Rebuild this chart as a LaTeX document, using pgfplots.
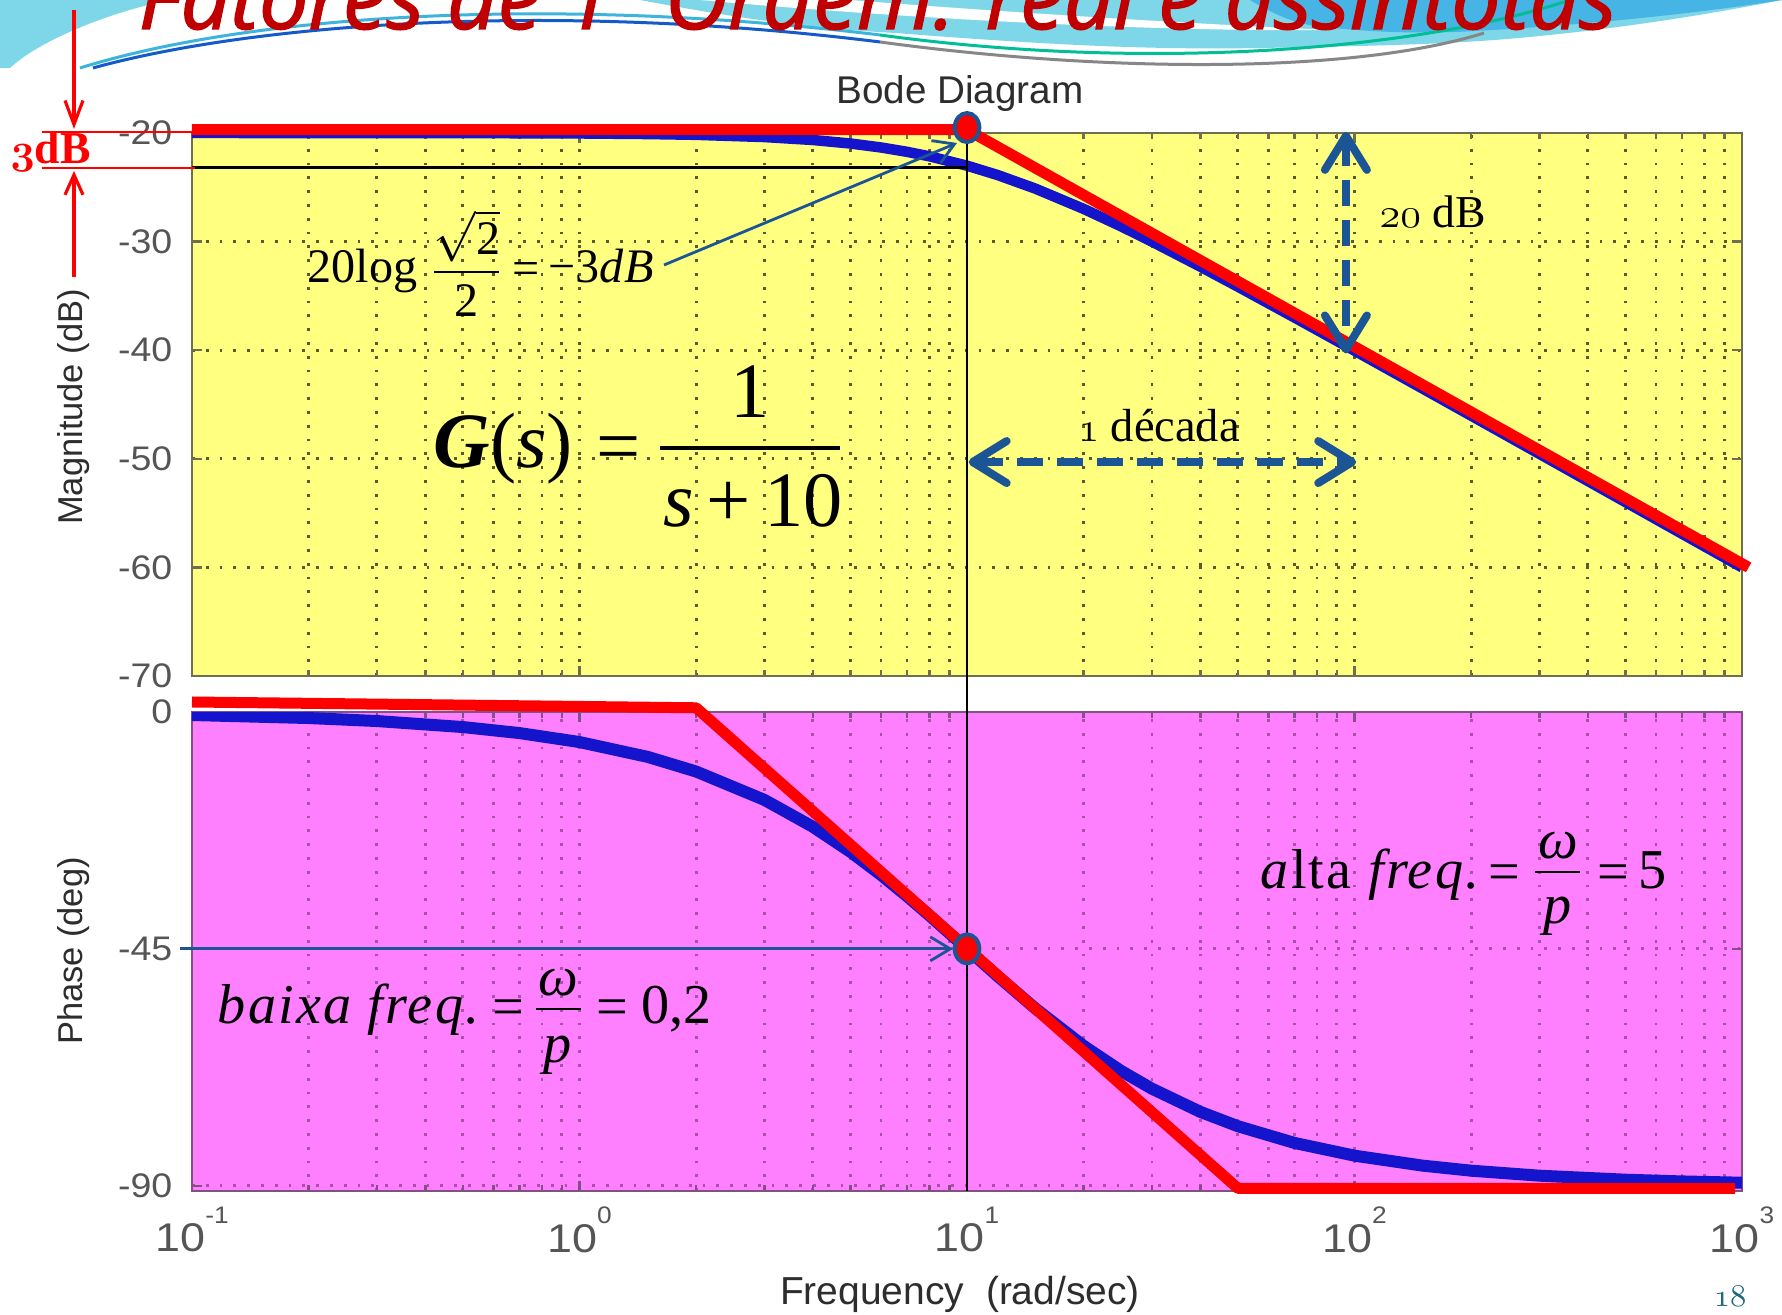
\documentclass[border=0pt]{standalone}
\usepackage{pgfplots}
\pgfplotsset{compat=1.18}
\usepackage{graphicx}
\usepackage{fontspec}
\usetikzlibrary{arrows.meta}

\newfontfamily\msans{Liberation Sans}
\newfontfamily\tnr{Liberation Serif}
\newfontfamily\tnrls{Liberation Serif}[LetterSpace=4]
\newfontfamily\ttl{Open Sans}[ItalicFeatures={FakeBold=1.6}]
\newcommand\setsz[1]{\fontsize{#1}{#1}\selectfont}
\newcommand\osfnum[1]{{\usefont{OML}{cmm}{m}{it}#1}}
\newcommand\osfnumb[1]{{\usefont{OML}{cmm}{b}{it}#1}}
\newcommand\wideticks[1]{\scalebox{1.1}[1]{#1}}
\newcommand\decade[1]{\scalebox{1.12}[1]{10}\raisebox{0.72em}{\setsz{6.8pt}\scalebox{1.1}[1]{#1}}}

\definecolor{magbg}{RGB}{255,255,128}
\definecolor{phbg}{RGB}{255,128,255}
\definecolor{maggrid}{RGB}{90,90,45}
\definecolor{phgrid}{RGB}{170,80,170}
\definecolor{magframe}{RGB}{110,110,80}
\definecolor{phframe}{RGB}{130,80,130}
\definecolor{bodeblue}{RGB}{20,20,205}
\definecolor{asym}{RGB}{255,0,0}
\definecolor{steel}{RGB}{28,85,150}
\definecolor{ticktxt}{RGB}{85,85,85}
\definecolor{labtxt}{RGB}{45,45,45}
\definecolor{titlered}{RGB}{192,0,0}
\definecolor{pagenum}{RGB}{30,105,125}
\definecolor{waveA}{RGB}{125,215,232}
\definecolor{waveB}{RGB}{70,180,228}
\definecolor{lineA}{RGB}{60,180,220}
\definecolor{lineB}{RGB}{20,90,200}
\definecolor{lineC}{RGB}{0,190,150}
\definecolor{lineD}{RGB}{135,135,135}

\begin{document}
\begin{tikzpicture}
\useasboundingbox (0,0) rectangle (178.2mm,131.4mm);
\clip (0,0) rectangle (178.2mm,131.4mm);
\fill[white] (0,0) rectangle (178.2mm,131.4mm);

% slide header: waves and title
\begin{scope}[x=0.1mm,y=-0.1mm,yshift=131.4mm]
  \fill[waveA] (0,0) -- (170,0) .. controls (110,12) and (40,40) .. (10,68) -- (0,68) -- cycle;
  \fill[waveA] (640,0) .. controls (720,15) and (800,28) .. (895,33) .. controls (1050,45) and (1150,50) .. (1261,48) .. controls (1380,46) and (1440,44) .. (1495,40) .. controls (1620,30) and (1720,12) .. (1782,0) -- cycle;
  \fill[white] (700,0) .. controls (900,18) and (1150,32) .. (1330,30) .. controls (1150,22) and (950,8) .. (850,0) -- cycle;
  \fill[waveB] (1250,0) .. controls (1280,18) and (1300,25) .. (1324,27) .. controls (1380,33) and (1420,33) .. (1456,32) .. controls (1600,25) and (1720,10) .. (1782,0) -- cycle;
  \draw[lineA, line width=0.3mm] (80,68) .. controls (250,15) and (550,-5) .. (880,35);
  \draw[lineC, line width=0.3mm] (880,35) .. controls (1150,72) and (1420,50) .. (1570,0);
  \draw[lineB, line width=0.3mm] (93,68) .. controls (260,22) and (560,2) .. (880,42);
  \draw[lineD, line width=0.3mm] (880,42) .. controls (1100,72) and (1350,75) .. (1484,33);
  \node[anchor=base west, inner sep=0pt, text=titlered] at (138,29)
    {\resizebox{147.8mm}{!}{\ttl\itshape Fatores de 1ª Ordem: real e assíntotas}};
\end{scope}

% magnitude
\begin{axis}[at={(19.2mm,63.8mm)}, anchor=south west,
  scale only axis, width=155mm, height=54.3mm,
  xmode=log, xmin=0.1, xmax=1000, ymin=-70, ymax=-20,
  xtick={0.1,1,10,100,1000},
  minor xtick={0.2,0.3,0.4,0.5,0.6,0.7,0.8,0.9,2,3,4,5,6,7,8,9,20,30,40,50,60,70,80,90,200,300,400,500,600,700,800,900},
  tick align=inside, tick pos=both,
  major tick length=1mm, minor tick length=0.6mm,
  xmajorgrids=true, xminorgrids=true, ymajorgrids=true,
  axis background/.style={fill=magbg},
  axis line style={draw=magframe, line width=0.7pt},
  every tick/.style={draw=magframe, line width=0.7pt},
  every axis grid/.style={draw=maggrid, line width=0.28mm, dash pattern=on 0.28mm off 1.1mm},
  ytick={-70,-60,-50,-40,-30,-20},
  yticklabels={\wideticks{-70},\wideticks{-60},\wideticks{-50},\wideticks{-40},\wideticks{-30},\wideticks{-20}},
  yticklabel style={font=\msans\setsz{9.7pt}, text=ticktxt, anchor=east, inner sep=0pt, xshift=-1.9mm},
  xticklabels={}]
\addplot[bodeblue, line width=1.05mm, line join=round] coordinates {
  (0.1,-20.000) (0.2,-20.002) (0.5,-20.011) (1,-20.043) (1.5,-20.097)
  (2,-20.170) (3,-20.374) (4,-20.645) (5,-20.969) (6,-21.335) (7,-21.732)
  (8,-22.148) (10,-23.010) (12,-23.874) (15,-25.119) (20,-26.990)
  (25,-28.603) (30,-30.000) (40,-32.304) (50,-34.150) (70,-36.990)
  (100,-40.043) (150,-43.541) (200,-46.031) (300,-49.547) (500,-53.981)
  (700,-56.903) (1000,-60.000)};
\coordinate (mH1) at (axis cs:0.1,-23.2);
\coordinate (mH2) at (axis cs:10,-23.2);
\coordinate (mV1) at (axis cs:10,-20);
\end{axis}

% phase
\begin{axis}[at={(19.2mm,12.3mm)}, anchor=south west,
  scale only axis, width=155mm, height=47.9mm,
  xmode=log, xmin=0.1, xmax=1000, ymin=-91, ymax=0,
  xtick={0.1,1,10,100,1000},
  minor xtick={0.2,0.3,0.4,0.5,0.6,0.7,0.8,0.9,2,3,4,5,6,7,8,9,20,30,40,50,60,70,80,90,200,300,400,500,600,700,800,900},
  tick align=inside, tick pos=both,
  major tick length=1mm, minor tick length=0.6mm,
  xmajorgrids=true, xminorgrids=true, ymajorgrids=true,
  axis background/.style={fill=phbg},
  axis line style={draw=phframe, line width=0.7pt},
  every tick/.style={draw=phframe, line width=0.7pt},
  every axis grid/.style={draw=phgrid, line width=0.28mm, dash pattern=on 0.28mm off 1.1mm},
  ytick={-90,-45,0},
  yticklabels={\wideticks{-90},\wideticks{-45},\wideticks{0}},
  yticklabel style={font=\msans\setsz{9.7pt}, text=ticktxt, anchor=east, inner sep=0pt, xshift=-1.9mm},
  xticklabels={\decade{-1},\decade{0},\decade{1},\decade{2},\decade{3}},
  xticklabel style={font=\msans\setsz{11.4pt}, text=ticktxt, anchor=north, inner sep=0pt, yshift=-1.5mm}]
\addplot[bodeblue, line width=1.2mm, line join=round] coordinates {
  (0.1,-0.573) (0.2,-1.146) (0.3,-1.718) (0.5,-2.862) (0.7,-4.004)
  (1,-5.711) (1.5,-8.531) (2,-11.310) (3,-16.699) (4,-21.801)
  (5,-26.565) (6,-30.964) (7,-34.992) (8,-38.660) (10,-45.000)
  (12,-50.194) (15,-56.310) (20,-63.435) (25,-68.199) (30,-71.565)
  (40,-75.964) (50,-78.690) (70,-81.870) (100,-84.289) (150,-86.186)
  (200,-87.138) (300,-88.091) (500,-88.854) (700,-89.182) (1000,-89.427)};
\coordinate (pV2) at (axis cs:10,-91);
\end{axis}

% -3 dB guide lines
\draw[black, line width=0.75pt] (mH1) -- (mH2);
\draw[black, line width=0.75pt] (mV1) -- (pV2);

% asymptotes, magnitude
\begin{axis}[at={(19.2mm,63.8mm)}, anchor=south west,
  scale only axis, width=155mm, height=54.3mm,
  xmode=log, xmin=0.1, xmax=1000, ymin=-70, ymax=-20,
  hide axis, clip=false]
\addplot[asym, line width=1.1mm, line join=round] coordinates {(0.1,-19.7) (10,-19.7) (1040,-60.0)};
\addplot[only marks, mark=*, mark size=1.45mm,
  mark options={xscale=0.85, fill=asym, draw=steel, line width=0.4mm}] coordinates {(10,-19.5)};
\draw[steel, line width=0.8mm, dash pattern=on 2.6mm off 1.4mm,
  {Straight Barb[round,length=3.4mm,width=4.2mm]}-{Straight Barb[round,length=3.4mm,width=4.2mm]}]
  (axis cs:95,-19.9) -- (axis cs:95,-40.3);
\draw[steel, line width=0.8mm, dash pattern=on 2.6mm off 1.4mm,
  {Straight Barb[round,length=3.4mm,width=4.2mm]}-{Straight Barb[round,length=3.4mm,width=4.2mm]}]
  (axis cs:10.1,-50.3) -- (axis cs:101,-50.3);
\end{axis}

% asymptotes, phase
\begin{axis}[at={(19.2mm,12.3mm)}, anchor=south west,
  scale only axis, width=155mm, height=47.9mm,
  xmode=log, xmin=0.1, xmax=1000, ymin=-91, ymax=0,
  hide axis, clip=false]
\draw[steel, line width=0.8pt, -{Straight Barb[length=2mm,width=2.4mm]}]
  (axis cs:0.093,-45) -- (axis cs:9.2,-45);
\addplot[asym, line width=1.1mm, line join=round] coordinates {(0.1,1.9) (2,0.8) (50,-90.5) (960,-90.5)};
\addplot[only marks, mark=*, mark size=1.45mm,
  mark options={xscale=0.85, fill=asym, draw=steel, line width=0.4mm}] coordinates {(10,-45)};
\end{axis}

% labels and notes
\begin{scope}[x=0.1mm,y=-0.1mm,yshift=131.4mm]
  \node[text=labtxt, font=\msans\setsz{11pt}] at (960,94) {Bode Diagram};
  \node[text=labtxt, font=\msans\setsz{9.8pt}, rotate=90] at (74,407) {Magnitude (dB)};
  \node[text=labtxt, font=\msans\setsz{9.8pt}, rotate=90] at (74,951) {Phase (deg)};
  \node[text=labtxt, font=\msans\setsz{11.1pt}] at (960,1294) {Frequency\ \ (rad/sec)};

  % 3 dB marker on the left
  \draw[asym, line width=0.6pt] (42,132) -- (193,132);
  \draw[asym, line width=0.6pt] (42,168) -- (195,168);
  \draw[asym, line width=0.9pt, -{Straight Barb[length=2.4mm,width=1.8mm]}] (74,10) -- (74,129);
  \draw[asym, line width=0.9pt, -{Straight Barb[length=2.0mm,width=1.8mm]}] (74,277) -- (74,171);
  \node[anchor=base west, inner sep=0pt, text=asym] at (10,164) {\setsz{13pt}\osfnumb{3}\tnr\bfseries dB};

  % 20 log(sqrt2/2) = -3dB
  \node[anchor=base west, inner sep=0pt] at (307,283) {\tnr\setsz{13.7pt}20log};
  \draw[line width=0.2mm] (434,272) -- (499,272);
  \node[anchor=base, inner sep=0pt] at (467,255) {\setsz{13.7pt}$\sqrt{\hbox{\tnr 2}}$};
  \node[anchor=base, inner sep=0pt] at (467,317) {\tnr\setsz{13.7pt}2};
  \node[anchor=base west, inner sep=0pt] at (512,285) {\tnr\setsz{13.7pt}=};
  \node[anchor=base west, inner sep=0pt] at (548,283) {\tnr\setsz{13.7pt}\char"2212 3\itshape dB};
  \draw[steel, line width=0.8pt, -{Straight Barb[length=2mm,width=2.4mm]}] (664,265) -- (957,143);

  % G(s)
  \node[anchor=base west, inner sep=0pt] at (433,468) {\tnr\setsz{22.3pt}{\bfseries\itshape G}(\textit{s})};
  \node[anchor=base west, inner sep=0pt] at (596,473) {\tnr\setsz{22.3pt}=};
  \draw[line width=0.4mm] (660,448) -- (840,448);
  \node[anchor=base, inner sep=0pt] at (750,418) {\tnr\setsz{22.3pt}1};
  \node[anchor=base, inner sep=0pt] at (753,527) {\tnr\setsz{22.3pt}\textit{s}\,+\,10};

  % slopes
  \node[anchor=base west, inner sep=0pt] at (1379,228) {\setsz{13pt}\osfnum{20}\tnr\ dB};
  \node[anchor=base west, inner sep=0pt] at (1078,442) {\setsz{13.2pt}\osfnum{1}\tnr\ década};

  % alta freq
  \node[anchor=base west, inner sep=0pt] at (1260,888) {\tnrls\setsz{16pt}\textit{a}lta\ \textit{freq.}};
  \node[anchor=base west, inner sep=0pt] at (1488,890) {\tnr\setsz{16pt}=};
  \draw[line width=0.25mm] (1535,872) -- (1580,872);
  \node[anchor=base, inner sep=0pt] at (1558,858) {\tnr\setsz{16pt}\itshape ω};
  \node[anchor=base, inner sep=0pt] at (1558,923) {\tnr\setsz{16pt}\itshape p};
  \node[anchor=base west, inner sep=0pt] at (1597,890) {\tnr\setsz{16pt}=};
  \node[anchor=base west, inner sep=0pt] at (1638,888) {\tnr\setsz{16pt}5};

  % baixa freq
  \node[anchor=base west, inner sep=0pt] at (217,1023) {\tnrls\setsz{16pt}\itshape baixa freq.};
  \node[anchor=base west, inner sep=0pt] at (492,1025) {\tnr\setsz{16pt}=};
  \draw[line width=0.25mm] (536,1009) -- (581,1009);
  \node[anchor=base, inner sep=0pt] at (558,995) {\tnr\setsz{16pt}\itshape ω};
  \node[anchor=base, inner sep=0pt] at (558,1062) {\tnr\setsz{16pt}\itshape p};
  \node[anchor=base west, inner sep=0pt] at (596,1025) {\tnr\setsz{16pt}=};
  \node[anchor=base west, inner sep=0pt] at (641,1023) {\tnr\setsz{16pt}0,2};

  \node[text=pagenum, anchor=base, inner sep=0pt] at (1730,1306) {\setsz{9.5pt}\osfnum{18}};
\end{scope}
\end{tikzpicture}
\end{document}
